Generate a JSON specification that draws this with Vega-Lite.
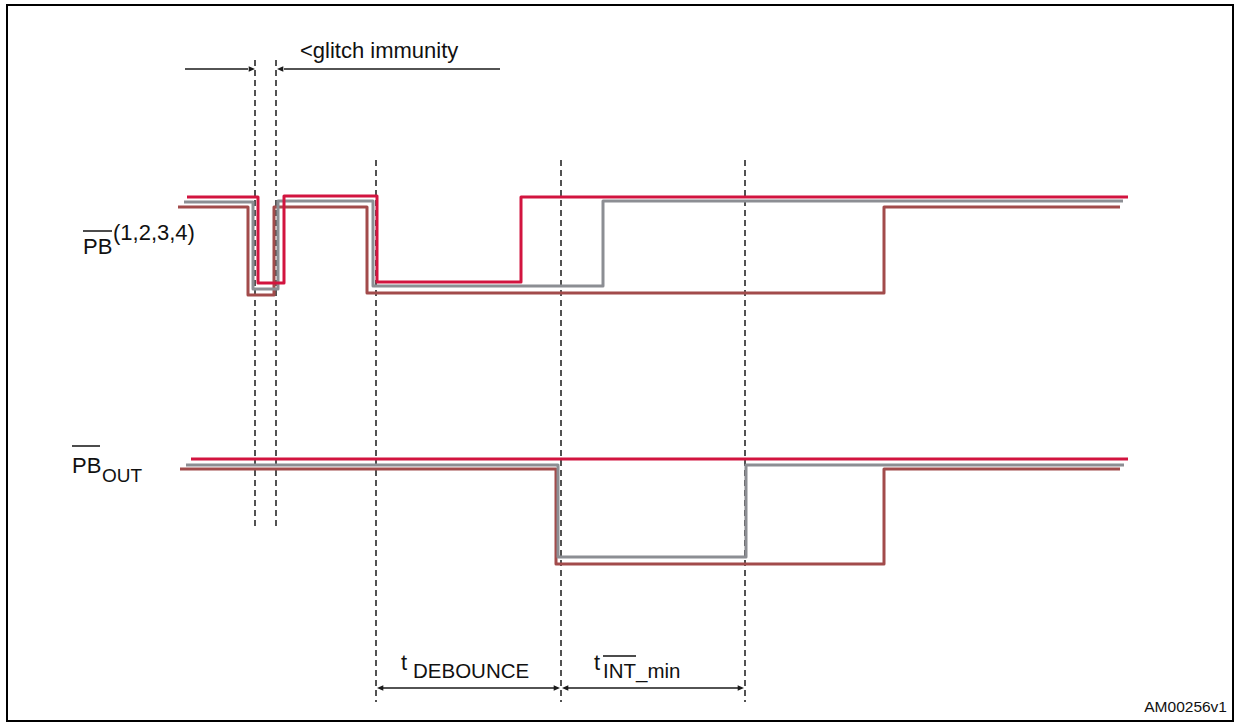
{
  "$schema": "https://vega.github.io/schema/vega-lite/v6.json",
  "autosize": {"type": "fit", "contains": "padding"},
  "width": 1235,
  "height": 723,
  "padding": 0,
  "background": "white",
  "config": {"view": {"stroke": null}},
  "datasets": {
    "sig": [
      {"s": "a_pb", "c": "brown", "o": 1, "t": 178, "v": 207},
      {"s": "a_pb", "c": "brown", "o": 2, "t": 248, "v": 207},
      {"s": "a_pb", "c": "brown", "o": 3, "t": 248, "v": 295},
      {"s": "a_pb", "c": "brown", "o": 4, "t": 274, "v": 295},
      {"s": "a_pb", "c": "brown", "o": 5, "t": 274, "v": 207},
      {"s": "a_pb", "c": "brown", "o": 6, "t": 367, "v": 207},
      {"s": "a_pb", "c": "brown", "o": 7, "t": 367, "v": 293},
      {"s": "a_pb", "c": "brown", "o": 8, "t": 884, "v": 293},
      {"s": "a_pb", "c": "brown", "o": 9, "t": 884, "v": 207},
      {"s": "a_pb", "c": "brown", "o": 10, "t": 1120, "v": 207},
      {"s": "b_pb", "c": "gray", "o": 1, "t": 184, "v": 202},
      {"s": "b_pb", "c": "gray", "o": 2, "t": 253, "v": 202},
      {"s": "b_pb", "c": "gray", "o": 3, "t": 253, "v": 289},
      {"s": "b_pb", "c": "gray", "o": 4, "t": 278, "v": 289},
      {"s": "b_pb", "c": "gray", "o": 5, "t": 278, "v": 201},
      {"s": "b_pb", "c": "gray", "o": 6, "t": 373, "v": 201},
      {"s": "b_pb", "c": "gray", "o": 7, "t": 373, "v": 286},
      {"s": "b_pb", "c": "gray", "o": 8, "t": 603, "v": 286},
      {"s": "b_pb", "c": "gray", "o": 9, "t": 603, "v": 201},
      {"s": "b_pb", "c": "gray", "o": 10, "t": 1123, "v": 201},
      {"s": "c_pb", "c": "red", "o": 1, "t": 187, "v": 197},
      {"s": "c_pb", "c": "red", "o": 2, "t": 258, "v": 197},
      {"s": "c_pb", "c": "red", "o": 3, "t": 258, "v": 283},
      {"s": "c_pb", "c": "red", "o": 4, "t": 284, "v": 283},
      {"s": "c_pb", "c": "red", "o": 5, "t": 284, "v": 196},
      {"s": "c_pb", "c": "red", "o": 6, "t": 377, "v": 196},
      {"s": "c_pb", "c": "red", "o": 7, "t": 377, "v": 282},
      {"s": "c_pb", "c": "red", "o": 8, "t": 521, "v": 282},
      {"s": "c_pb", "c": "red", "o": 9, "t": 521, "v": 197},
      {"s": "c_pb", "c": "red", "o": 10, "t": 1128, "v": 197},
      {"s": "a_out", "c": "brown", "o": 1, "t": 180, "v": 469},
      {"s": "a_out", "c": "brown", "o": 2, "t": 556, "v": 469},
      {"s": "a_out", "c": "brown", "o": 3, "t": 556, "v": 564},
      {"s": "a_out", "c": "brown", "o": 4, "t": 884, "v": 564},
      {"s": "a_out", "c": "brown", "o": 5, "t": 884, "v": 469},
      {"s": "a_out", "c": "brown", "o": 6, "t": 1120, "v": 469},
      {"s": "b_out", "c": "gray", "o": 1, "t": 186, "v": 465},
      {"s": "b_out", "c": "gray", "o": 2, "t": 558, "v": 465},
      {"s": "b_out", "c": "gray", "o": 3, "t": 558, "v": 557},
      {"s": "b_out", "c": "gray", "o": 4, "t": 746, "v": 557},
      {"s": "b_out", "c": "gray", "o": 5, "t": 746, "v": 465},
      {"s": "b_out", "c": "gray", "o": 6, "t": 1124, "v": 465},
      {"s": "c_out", "c": "red", "o": 1, "t": 191, "v": 459},
      {"s": "c_out", "c": "red", "o": 2, "t": 1128, "v": 459}
    ],
    "dash": [
      {"t": 255, "v1": 60, "v2": 530},
      {"t": 276, "v1": 60, "v2": 530},
      {"t": 376, "v1": 160, "v2": 702},
      {"t": 561, "v1": 160, "v2": 702},
      {"t": 745, "v1": 160, "v2": 702}
    ],
    "hline": [
      {"t1": 185, "t2": 248, "v": 69},
      {"t1": 284, "t2": 500, "v": 69},
      {"t1": 382, "t2": 555, "v": 688},
      {"t1": 567, "t2": 739, "v": 688}
    ],
    "headR": [
      {"t": 255, "v": 69},
      {"t": 560, "v": 688},
      {"t": 744, "v": 688}
    ],
    "headL": [
      {"t": 277, "v": 69},
      {"t": 377, "v": 688},
      {"t": 562, "v": 688}
    ],
    "over": [
      {"t1": 83, "t2": 112, "v": 231},
      {"t1": 72, "t2": 100, "v": 446},
      {"t1": 603, "t2": 636, "v": 656}
    ],
    "big": [
      {"t": 83, "v": 254, "txt": "PB"},
      {"t": 72, "v": 473, "txt": "PB"},
      {"t": 401, "v": 670, "txt": "t"},
      {"t": 594, "v": 670, "txt": "t"},
      {"t": 113, "v": 240, "txt": "(1,2,3,4)"},
      {"t": 300, "v": 58, "txt": "<glitch immunity"}
    ],
    "mid": [
      {"t": 413, "v": 678, "txt": "DEBOUNCE"},
      {"t": 603, "v": 678, "txt": "INT_min"}
    ],
    "sub": [
      {"t": 102, "v": 482, "txt": "OUT"}
    ],
    "small": [
      {"t": 1227, "v": 707, "txt": "AM00256v1"}
    ],
    "frame": [
      {"t1": 7, "t2": 1233, "v1": 5, "v2": 721}
    ]
  },
  "layer": [
    {
      "data": {"name": "frame"},
      "mark": {"type": "rect", "fill": null, "stroke": "black", "strokeWidth": 2},
      "encoding": {
        "x": {"field": "t1", "type": "quantitative", "scale": {"domain": [0, 1235], "nice": false, "zero": false}, "axis": null},
        "x2": {"field": "t2"},
        "y": {"field": "v1", "type": "quantitative", "scale": {"domain": [0, 723], "nice": false, "zero": false, "reverse": true}, "axis": null},
        "y2": {"field": "v2"}
      }
    },
    {
      "data": {"name": "dash"},
      "mark": {"type": "rule", "color": "#1a1a1a", "strokeWidth": 1.5, "strokeDash": [6, 4]},
      "encoding": {
        "x": {"field": "t", "type": "quantitative"},
        "y": {"field": "v1", "type": "quantitative"},
        "y2": {"field": "v2"}
      }
    },
    {
      "data": {"name": "sig"},
      "mark": {"type": "line", "strokeWidth": 3, "strokeJoin": "round", "strokeCap": "butt"},
      "encoding": {
        "x": {"field": "t", "type": "quantitative"},
        "y": {"field": "v", "type": "quantitative"},
        "detail": {"field": "s", "type": "nominal"},
        "order": {"field": "o", "type": "quantitative"},
        "color": {"field": "c", "type": "nominal", "scale": {"domain": ["brown", "gray", "red"], "range": ["#A24B4B", "#8C8E93", "#D2143F"]}, "legend": null}
      }
    },
    {
      "data": {"name": "hline"},
      "mark": {"type": "rule", "color": "#1a1a1a", "strokeWidth": 1.6},
      "encoding": {
        "x": {"field": "t1", "type": "quantitative"},
        "x2": {"field": "t2"},
        "y": {"field": "v", "type": "quantitative"}
      }
    },
    {
      "data": {"name": "headR"},
      "mark": {"type": "point", "shape": "M0,0L-1,-0.42L-1,0.42Z", "filled": true, "color": "#1a1a1a", "opacity": 1, "size": 160, "strokeWidth": 0},
      "encoding": {
        "x": {"field": "t", "type": "quantitative"},
        "y": {"field": "v", "type": "quantitative"}
      }
    },
    {
      "data": {"name": "headL"},
      "mark": {"type": "point", "shape": "M0,0L1,-0.42L1,0.42Z", "filled": true, "color": "#1a1a1a", "opacity": 1, "size": 160, "strokeWidth": 0},
      "encoding": {
        "x": {"field": "t", "type": "quantitative"},
        "y": {"field": "v", "type": "quantitative"}
      }
    },
    {
      "data": {"name": "over"},
      "mark": {"type": "rule", "color": "#111111", "strokeWidth": 1.5},
      "encoding": {
        "x": {"field": "t1", "type": "quantitative"},
        "x2": {"field": "t2"},
        "y": {"field": "v", "type": "quantitative"}
      }
    },
    {
      "data": {"name": "big"},
      "mark": {"type": "text", "font": "Liberation Sans", "fontSize": 22, "align": "left", "baseline": "alphabetic", "color": "#111111"},
      "encoding": {
        "x": {"field": "t", "type": "quantitative"},
        "y": {"field": "v", "type": "quantitative"},
        "text": {"field": "txt"}
      }
    },
    {
      "data": {"name": "mid"},
      "mark": {"type": "text", "font": "Liberation Sans", "fontSize": 20.5, "align": "left", "baseline": "alphabetic", "color": "#111111"},
      "encoding": {
        "x": {"field": "t", "type": "quantitative"},
        "y": {"field": "v", "type": "quantitative"},
        "text": {"field": "txt"}
      }
    },
    {
      "data": {"name": "sub"},
      "mark": {"type": "text", "font": "Liberation Sans", "fontSize": 19, "align": "left", "baseline": "alphabetic", "color": "#111111"},
      "encoding": {
        "x": {"field": "t", "type": "quantitative"},
        "y": {"field": "v", "type": "quantitative"},
        "text": {"field": "txt"}
      }
    },
    {
      "data": {"name": "small"},
      "mark": {"type": "text", "font": "Liberation Sans", "fontSize": 15.5, "align": "right", "baseline": "middle", "color": "#111111"},
      "encoding": {
        "x": {"field": "t", "type": "quantitative"},
        "y": {"field": "v", "type": "quantitative"},
        "text": {"field": "txt"}
      }
    }
  ]
}
